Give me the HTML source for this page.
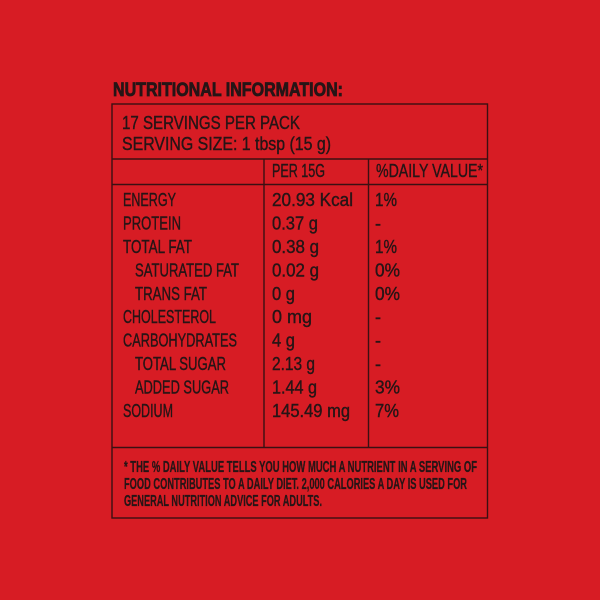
<!DOCTYPE html>
<html><head><meta charset="utf-8"><style>
html,body{margin:0;padding:0;background:#d71c24;}
svg{display:block}
text{font-family:"Liberation Sans Narrow","Liberation Sans",sans-serif;fill:#261516;stroke:#261516;}
.b{font-size:18px;stroke-width:0.4px;}
.t{font-size:19px;font-weight:bold;stroke-width:0.8px;}
.f{font-size:16px;font-weight:bold;stroke-width:0.3px;}
</style></head><body>
<svg width="600" height="600" viewBox="0 0 600 600" xmlns="http://www.w3.org/2000/svg">
<rect width="600" height="600" fill="#d71c24"/>
<text class="t" x="113" y="96" textLength="230" lengthAdjust="spacingAndGlyphs">NUTRITIONAL INFORMATION:</text>
<g stroke="#3a1012" stroke-width="1.4" fill="none">
<rect x="112" y="104" width="375.5" height="414"/>
<line x1="112" y1="159" x2="487.5" y2="159"/>
<line x1="112" y1="184.5" x2="487.5" y2="184.5"/>
<line x1="112" y1="447.5" x2="487.5" y2="447.5"/>
<line x1="264" y1="159" x2="264" y2="447.5"/>
<line x1="368.5" y1="159" x2="368.5" y2="447.5"/>
</g>
<text class="b" x="122" y="129" textLength="178" lengthAdjust="spacingAndGlyphs">17 SERVINGS PER PACK</text>
<text class="b" x="122" y="150" textLength="209" lengthAdjust="spacingAndGlyphs">SERVING SIZE: 1 tbsp (15 g)</text>
<text class="b" x="272" y="177" textLength="53" lengthAdjust="spacingAndGlyphs">PER 15G</text>
<text class="b" x="376" y="177" textLength="107" lengthAdjust="spacingAndGlyphs">%DAILY VALUE*</text>

<text class="b" x="123" y="206" textLength="53" lengthAdjust="spacingAndGlyphs">ENERGY</text>
<text class="b" x="123" y="229.5" textLength="58" lengthAdjust="spacingAndGlyphs">PROTEIN</text>
<text class="b" x="123" y="253" textLength="69" lengthAdjust="spacingAndGlyphs">TOTAL FAT</text>
<text class="b" x="135" y="276.5" textLength="104" lengthAdjust="spacingAndGlyphs">SATURATED FAT</text>
<text class="b" x="135" y="300" textLength="72" lengthAdjust="spacingAndGlyphs">TRANS FAT</text>
<text class="b" x="123" y="323" textLength="93" lengthAdjust="spacingAndGlyphs">CHOLESTEROL</text>
<text class="b" x="123" y="346.5" textLength="114" lengthAdjust="spacingAndGlyphs">CARBOHYDRATES</text>
<text class="b" x="135" y="370" textLength="91" lengthAdjust="spacingAndGlyphs">TOTAL SUGAR</text>
<text class="b" x="135" y="393.5" textLength="94" lengthAdjust="spacingAndGlyphs">ADDED SUGAR</text>
<text class="b" x="123" y="417" textLength="50" lengthAdjust="spacingAndGlyphs">SODIUM</text>

<text class="b" x="272" y="206" textLength="81" lengthAdjust="spacingAndGlyphs">20.93 Kcal</text>
<text class="b" x="272" y="229.5" textLength="46" lengthAdjust="spacingAndGlyphs">0.37 g</text>
<text class="b" x="272" y="253" textLength="47" lengthAdjust="spacingAndGlyphs">0.38 g</text>
<text class="b" x="272" y="276.5" textLength="47" lengthAdjust="spacingAndGlyphs">0.02 g</text>
<text class="b" x="272" y="300" textLength="23" lengthAdjust="spacingAndGlyphs">0 g</text>
<text class="b" x="272" y="323" textLength="40" lengthAdjust="spacingAndGlyphs">0 mg</text>
<text class="b" x="272" y="346.5" textLength="23" lengthAdjust="spacingAndGlyphs">4 g</text>
<text class="b" x="272" y="370" textLength="43" lengthAdjust="spacingAndGlyphs">2.13 g</text>
<text class="b" x="272" y="393.5" textLength="45" lengthAdjust="spacingAndGlyphs">1.44 g</text>
<text class="b" x="272" y="417" textLength="78" lengthAdjust="spacingAndGlyphs">145.49 mg</text>

<text class="b" x="375" y="206" textLength="22" lengthAdjust="spacingAndGlyphs">1%</text>
<text class="b" x="375" y="229.5">-</text>
<text class="b" x="375" y="253" textLength="22" lengthAdjust="spacingAndGlyphs">1%</text>
<text class="b" x="375" y="276.5" textLength="25" lengthAdjust="spacingAndGlyphs">0%</text>
<text class="b" x="375" y="300" textLength="25" lengthAdjust="spacingAndGlyphs">0%</text>
<text class="b" x="375" y="323">-</text>
<text class="b" x="375" y="346.5">-</text>
<text class="b" x="375" y="370">-</text>
<text class="b" x="375" y="393.5" textLength="25" lengthAdjust="spacingAndGlyphs">3%</text>
<text class="b" x="375" y="417" textLength="24" lengthAdjust="spacingAndGlyphs">7%</text>

<text class="f" x="124" y="472" textLength="353" lengthAdjust="spacingAndGlyphs">* THE % DAILY VALUE TELLS YOU HOW MUCH A NUTRIENT IN A SERVING OF</text>
<text class="f" x="124" y="489" textLength="343" lengthAdjust="spacingAndGlyphs">FOOD CONTRIBUTES TO A DAILY DIET. 2,000 CALORIES A DAY IS USED FOR</text>
<text class="f" x="124" y="506" textLength="198" lengthAdjust="spacingAndGlyphs">GENERAL NUTRITION ADVICE FOR ADULTS.</text>
</svg>
</body></html>
